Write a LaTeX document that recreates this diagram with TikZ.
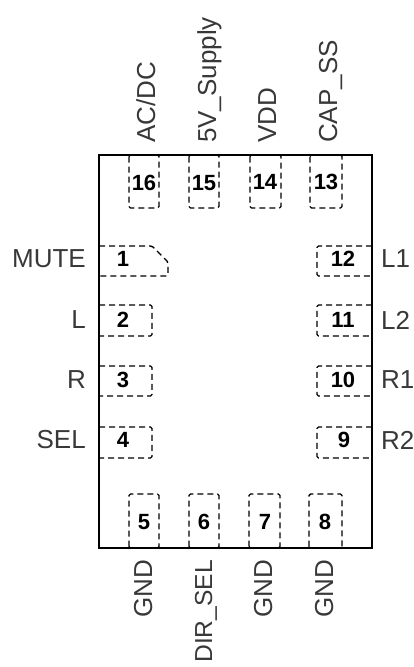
\documentclass[tikz,border=0pt]{standalone}
\usepackage{fontspec}
\setmainfont{Liberation Sans}
\definecolor{labelgray}{gray}{0.22}
\tikzset{
  chip/.style={draw=black,line width=2.5pt},
  pad/.style={draw=black,line width=1.4pt,dash pattern=on 6pt off 4pt,rounded corners=1.5pt},
  pinnum/.style={font=\fontsize{22}{22}\selectfont\bfseries,text=black,inner sep=0pt},
  lefttext/.style={font=\fontsize{26}{26}\selectfont,text=labelgray,anchor=east,inner sep=0pt},
  righttext/.style={font=\fontsize{26}{26}\selectfont,text=labelgray,anchor=west,inner sep=0pt},
  uptext/.style={font=\fontsize{26}{26}\selectfont,text=labelgray,rotate=90,anchor=base west,inner sep=0pt},
  downtext/.style={font=\fontsize{26}{26}\selectfont,text=labelgray,rotate=90,anchor=base east,inner sep=0pt},
}
\begin{document}
\begin{tikzpicture}[x=1pt,y=-1pt]
\useasboundingbox (0,0) rectangle (414,667);
% top pads
\draw[pad] (129,155) rectangle (159,208);
\draw[pad] (189,155) rectangle (219,208);
\draw[pad] (250,155) rectangle (281,208);
\draw[pad] (310,155) rectangle (342,208);
% bottom pads
\draw[pad] (129,548) rectangle (159,494);
\draw[pad] (189,548) rectangle (219,494);
\draw[pad] (249,548) rectangle (280,494);
\draw[pad] (309,548) rectangle (342,494);
% left pads
\draw[pad] (99,246) -- (152,246) -- (168,262) -- (168,276) -- (99,276);
\draw[pad] (99,305) -- (152,305) -- (152,336) -- (99,336);
\draw[pad] (99,366) -- (152,366) -- (152,396) -- (99,396);
\draw[pad] (99,427) -- (152,427) -- (152,458) -- (99,458);
% right pads
\draw[pad] (372,246) -- (317,246) -- (317,276) -- (372,276);
\draw[pad] (372,305) -- (317,305) -- (317,336) -- (372,336);
\draw[pad] (372,366) -- (317,366) -- (317,396) -- (372,396);
\draw[pad] (372,427) -- (317,427) -- (317,458) -- (372,458);
% body
\draw[chip] (99,155) rectangle (372,548);
% pin numbers
\node[pinnum] (p1) at (123,259) {1};
\node[pinnum] (p2) at (123,320) {2};
\node[pinnum] (p3) at (123,380) {3};
\node[pinnum] (p4) at (123,440) {4};
\node[pinnum] (p5) at (144,522) {5};
\node[pinnum] (p6) at (204,522) {6};
\node[pinnum] (p7) at (265,522) {7};
\node[pinnum] (p8) at (325,522) {8};
\node[pinnum] (p9) at (344,440) {9};
\node[pinnum] (p10) at (343,380) {10};
\node[pinnum] (p11) at (343,320) {11};
\node[pinnum] (p12) at (343,259) {12};
\node[pinnum] (p13) at (326,182) {13};
\node[pinnum] (p14) at (265,182) {14};
\node[pinnum] (p15) at (204,183) {15};
\node[pinnum] (p16) at (144,183) {16};
% left labels
\node[lefttext] (mute) at (86,259) {MUTE};
\node[lefttext] (l) at (86,320) {L};
\node[lefttext] (r) at (86,380) {R};
\node[lefttext] (sel) at (86,440) {SEL};
% right labels
\node[righttext] (l1) at (381,259) {L1};
\node[righttext] (l2) at (381,320) {L2};
\node[righttext] (r1) at (381,380) {R1};
\node[righttext] (r2) at (381,440) {R2};
% top labels
\node[uptext] (acdc) at (155,143) {AC/DC};
\node[uptext] (supply) at (216,143) {5V\_Supply};
\node[uptext] (vdd) at (276,143) {VDD};
\node[uptext] (capss) at (337,143) {CAP\_SS};
% bottom labels
\node[downtext] (gnd5) at (152,560) {GND};
\node[downtext,font=\fontsize{24.6}{25}\selectfont] (dirsel) at (212,560) {DIR\_SEL};
\node[downtext] (gnd7) at (272,560) {GND};
\node[downtext] (gnd8) at (333,560) {GND};
\end{tikzpicture}
\end{document}
